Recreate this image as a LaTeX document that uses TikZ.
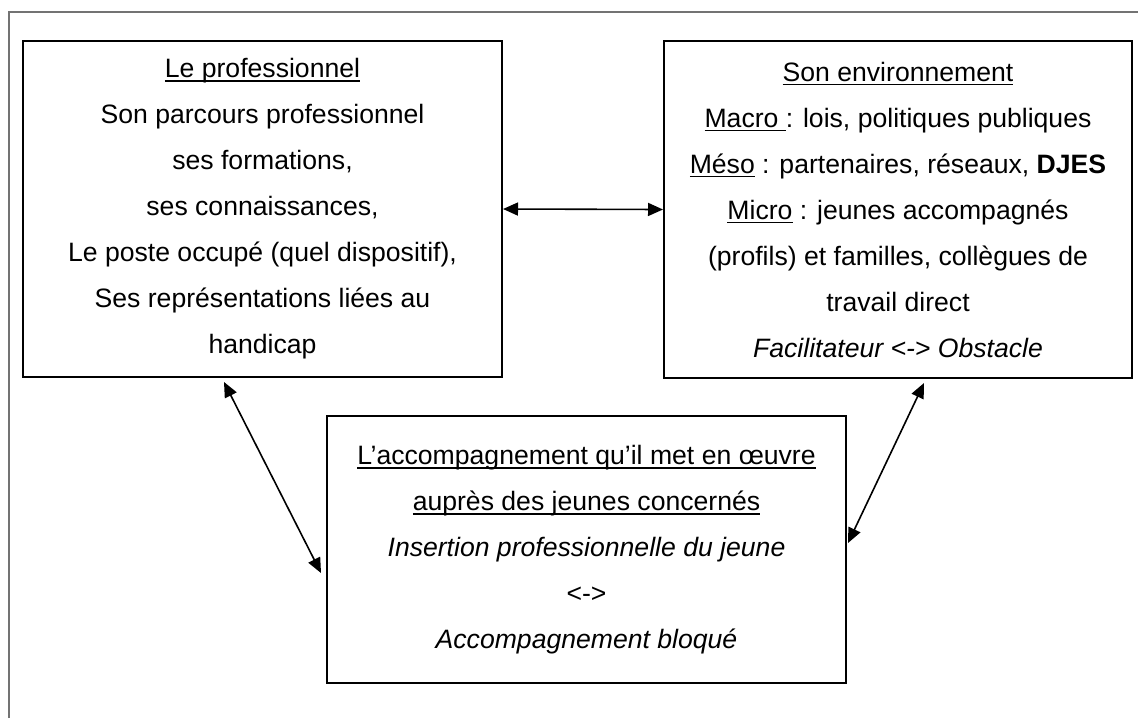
\documentclass[tikz,border=0pt]{standalone}
\usepackage{fontspec}
\setmainfont{Liberation Sans}
\usetikzlibrary{arrows.meta}
\newcommand{\souligne}[1]{\setbox0\hbox{#1}\rlap{\rule[-2.2pt]{\wd0}{0.9pt}}\box0\relax}

\begin{document}
\begin{tikzpicture}[x=0.5pt,y=-0.5pt,
  box/.style={draw=black,line width=1pt,inner sep=0pt,align=center,
    font=\fontsize{13.3}{23}\selectfont},
  link/.style={draw=black,line width=0.8pt,
    {Triangle[length=7.5pt,width=6.5pt]}-{Triangle[length=7.5pt,width=6.5pt]}}]
\useasboundingbox (0,0) rectangle (1138,718);
% Drawing frame
\draw[color=black!55,line width=0.6pt] (9,718) -- (9,12) -- (1138,12);
% Done with frame; drawing boxes
\node[box,minimum width=239.5pt,minimum height=168pt] (prof) at (262.5,209)
  {\souligne{Le professionnel}\\
   Son parcours professionnel\\
   ses formations,\\
   ses connaissances,\\
   Le poste occup\'e (quel dispositif),\\
   Ses repr\'esentations li\'ees au\\
   handicap};
\node[box,minimum width=234pt,minimum height=168.5pt] (env) at (898,209.5)
  {\souligne{Son environnement}\\
   \souligne{Macro\ }: lois, politiques publiques\\
   \souligne{M\'eso} : partenaires, r\'eseaux, \textbf{DJES}\\
   \souligne{Micro} : jeunes accompagn\'es\\
   (profils) et familles, coll\`egues de\\
   travail direct\\
   \textit{Facilitateur <-> Obstacle}};
\node[box,minimum width=259.5pt,minimum height=133.5pt] (acc) at (586.5,549.5)
  {\souligne{L’accompagnement qu’il met en œuvre}\\
   \souligne{aupr\`es des jeunes concern\'es}\\
   \textit{Insertion professionnelle du jeune}\\
   <->\\
   \textit{Accompagnement bloqu\'e}};
% Done with boxes; drawing links
\draw[link] (prof.east) -- (env.west);
\draw[link] ([xshift=101pt,yshift=-2pt]prof.south west) -- ([xshift=-2.5pt,yshift=-11.75pt]acc.west);
\draw[link] ([xshift=130.5pt,yshift=-2pt]env.south west) -- ([xshift=0.5pt,yshift=3.25pt]acc.east);
% Done with links
\end{tikzpicture}
\end{document}
